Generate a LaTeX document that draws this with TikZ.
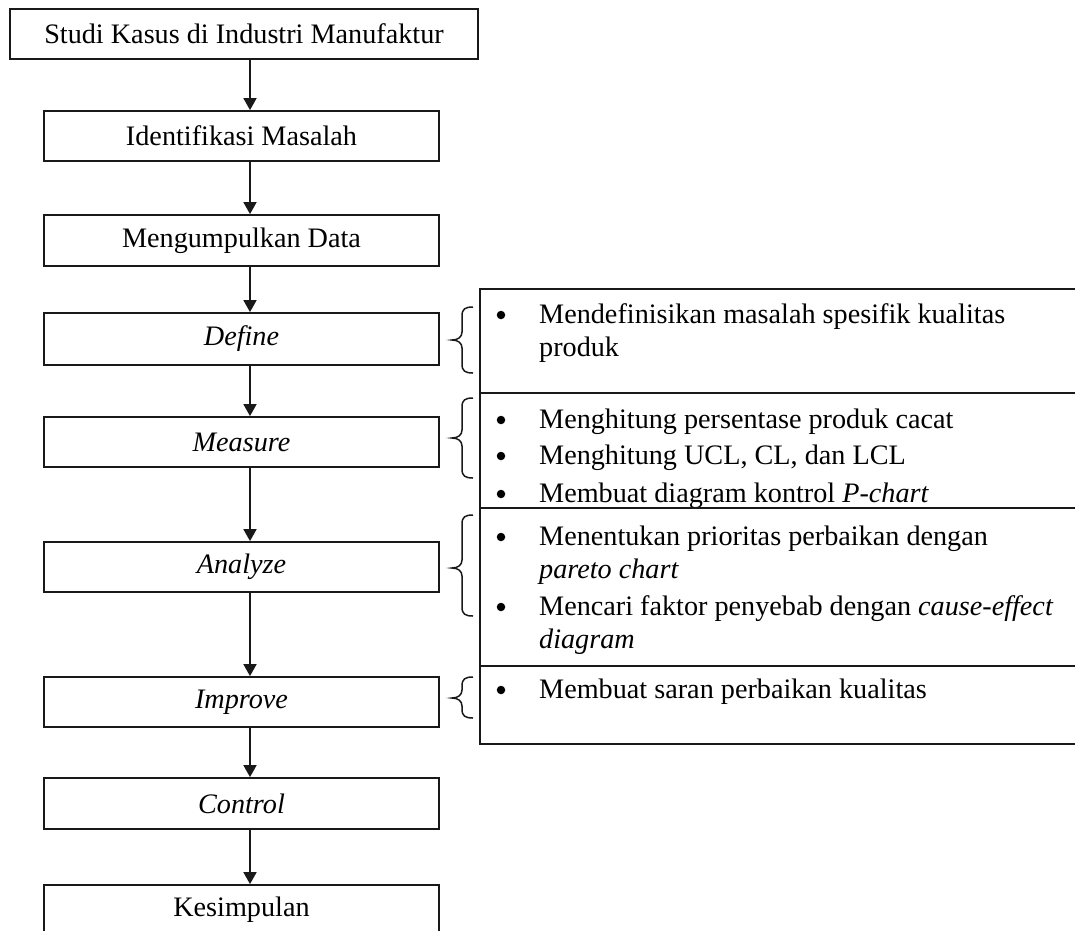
\documentclass[tikz,border=0pt]{standalone}
\usepackage{fontspec}
\setmainfont{Liberation Serif}
\usetikzlibrary{arrows.meta}
\begin{document}
\begin{tikzpicture}[x=1pt,y=-1pt,
  box/.style={draw=black!90, line width=1.8pt, minimum width=395pt, minimum height=50pt, inner sep=0pt, font=\fontsize{28.2}{33}\selectfont},
  flow/.style={draw=black!90, line width=1.7pt, -{Triangle[width=13pt,length=12pt]}},
  cell/.style={draw=black!90, line width=1.8pt, minimum width=620pt, inner sep=0pt, anchor=north west},
  brc/.style={draw=black!90, line width=1.5pt},
  txt/.style={anchor=base west, inner sep=0pt, font=\fontsize{28.2}{33}\selectfont},
  bul/.style={circle, fill=black, inner sep=0pt, minimum size=8.5pt}]
\clip (0,0) rectangle (1075,930);
% main column
\node[box, minimum width=468pt] (s1) at (244,34) {Studi Kasus di Industri Manufaktur};
\node[box] (s2) at (241.5,136) {Identifikasi Masalah};
\node[box, minimum height=51pt] (s3) at (241.5,240.5) {Mengumpulkan Data};
\node[box, minimum height=52pt] (s4) at (241.5,339) {\textit{Define}};
\node[box] (s5) at (241.5,442) {\textit{Measure}};
\node[box] (s6) at (241.5,567) {\textit{Analyze}};
\node[box] (s7) at (241.5,702) {\textit{Improve}};
\node[box, minimum height=51pt] (s8) at (241.5,803.5) {\textit{Control}};
\node[box] (s9) at (241.5,910) {Kesimpulan};
\coordinate (ax) at (250,0);
\draw[flow] (s1.south -| ax) -- (s2.north -| ax);
\draw[flow] (s2.south -| ax) -- (s3.north -| ax);
\draw[flow] (s3.south -| ax) -- (s4.north -| ax);
\draw[flow] (s4.south -| ax) -- (s5.north -| ax);
\draw[flow] (s5.south -| ax) -- (s6.north -| ax);
\draw[flow] (s6.south -| ax) -- (s7.north -| ax);
\draw[flow] (s7.south -| ax) -- (s8.north -| ax);
\draw[flow] (s8.south -| ax) -- (s9.north -| ax);
% right panel cells
\node[cell, minimum height=104pt] (c1) at (479,288) {};
\node[cell, minimum height=115pt] (c2) at (479,392) {};
\node[cell, minimum height=158pt] (c3) at (479,507) {};
\node[cell, minimum height=78pt] (c4) at (479,665) {};
% braces
\foreach \t/\m/\b in {307/340/373, 398/438/478, 515/568/616, 677/698/718}{
  \draw[brc] (473,\t) .. controls (465,\t) and (462,\t+2) .. (462,\t+9)
    -- (462,\m-8) .. controls (462,\m-3) and (458,\m) .. (452,\m)
    .. controls (458,\m) and (462,\m+3) .. (462,\m+8)
    -- (462,\b-9) .. controls (462,\b-2) and (465,\b) .. (473,\b);
}
% Define texts
\node[bul] (d0) at (501,315) {};
\node[txt] (d1) at (539,323) {Mendefinisikan masalah spesifik kualitas};
\node[txt] (d2) at (539,356) {produk};
% Measure texts
\begin{scope}
\clip (479,393) rectangle (1075,506);
\node[bul] (m0) at (501,420) {};
\node[txt] (m1) at (539,428) {Menghitung persentase produk cacat};
\node[bul] (m2) at (501,456) {};
\node[txt] (m3) at (539,464) {Menghitung UCL, CL, dan LCL};
\node[bul] (m4) at (501,494) {};
\node[txt] (m5) at (539,502) {Membuat diagram kontrol \textit{P-chart}};
\end{scope}
% Analyze texts
\node[bul] (a0) at (501,537) {};
\node[txt] (a1) at (539,545) {Menentukan prioritas perbaikan dengan};
\node[txt] (a2) at (539,578) {\textit{pareto chart}};
\node[bul] (a3) at (501,607) {};
\node[txt] (a4) at (539,615) {Mencari faktor penyebab dengan \textit{cause-effect}};
\node[txt] (a5) at (539,648) {\textit{diagram}};
% Improve texts
\node[bul] (i0) at (501,690) {};
\node[txt] (i1) at (539,698) {Membuat saran perbaikan kualitas};
\end{tikzpicture}
\end{document}
